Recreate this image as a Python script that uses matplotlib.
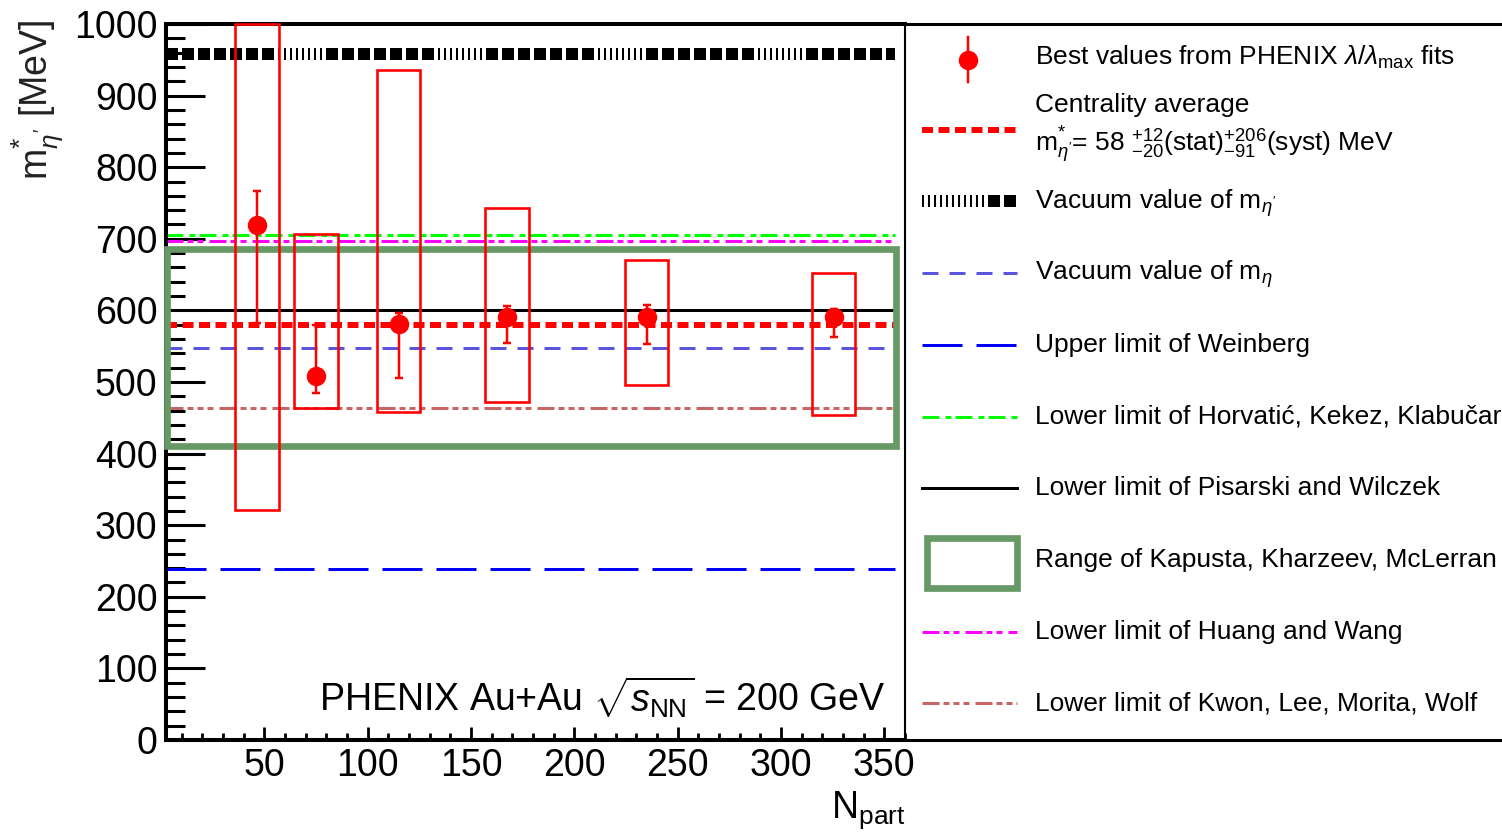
import matplotlib
matplotlib.use("Agg")
import matplotlib.pyplot as plt
from matplotlib.patches import Rectangle
from matplotlib.ticker import MultipleLocator

plt.rcParams['font.family'] = ['Liberation Sans', 'DejaVu Sans']
plt.rcParams['mathtext.fontset'] = 'custom'
plt.rcParams['mathtext.rm'] = 'Liberation Sans'
plt.rcParams['mathtext.it'] = 'Liberation Sans:italic'
plt.rcParams['mathtext.bf'] = 'Liberation Sans:bold'
plt.rcParams['lines.scale_dashes'] = False

# --- PHENIX best values vs centrality ---
npart = [46.5, 75, 115, 167.5, 235, 325.5]
mass = [719, 509, 581, 591, 591, 591]
stat_up = [48, 71, 15, 15, 16, 11]
stat_dn = [137, 24, 76, 37, 38, 28]
syst_lo = [321, 464, 458, 472, 496, 454]
syst_hi = [1000, 707, 936, 743, 670, 652]
syst_halfwidth = 10.5

# --- reference levels [MeV] ---
avg_mass = 580
vac_etaprime = 958
vac_eta = 548
weinberg = 239
horvatic = 706
pisarski = 600
kapusta = [410, 686]
huang_wang = 697
kwon = 463

x_range = [2.4, 360]
line_x = [2.4, 355]
box_x = [3, 355.6]

# colours / dash patterns (points)
RED = '#ff0000'
GREEN_BOX = '#669966'
px = 0.72
style_etap = dict(color='black', lw=12 * px,
                  dashes=[12 * px, 4 * px] * 7 + [2 * px, 4 * px] * 8)
style_etap_leg = dict(color='black', lw=12 * px,
                      dashes=[2 * px, 4 * px] * 11 + [12 * px, 4 * px] * 3)
style_avg = dict(color=RED, lw=6 * px, dashes=[11 * px, 5.5 * px])
style_eta = dict(color='#5a55dc', lw=3 * px, dashes=[16 * px, 11 * px])
style_wein = dict(color='#0000ff', lw=3 * px, dashes=[40 * px, 14 * px])
style_horv = dict(color='#00ff00', lw=3 * px, dashes=[17 * px, 6 * px, 6 * px, 4 * px])
style_pis = dict(color='black', lw=3 * px)
style_huang = dict(color='#ff00ff', lw=3 * px,
                   dashes=[17 * px, 4 * px, 6 * px, 4 * px, 6 * px, 6 * px])
style_kwon = dict(color='#c86464', lw=3 * px,
                  dashes=[17 * px, 4 * px, 6 * px, 4 * px, 6 * px, 4 * px, 6 * px, 6 * px])

W, H = 1502, 835
L, R, B, T = 166, 905, 740, 24
fig = plt.figure(figsize=(W / 100, H / 100), dpi=100)
ax = fig.add_axes([L / W, 1 - B / H, (R - L) / W, (B - T) / H])
ax.set_xlim(*x_range)
ax.set_ylim(0, 1000)

# 1) theory / reference lines
ax.add_patch(Rectangle((box_x[0], kapusta[0]), box_x[1] - box_x[0], kapusta[1] - kapusta[0],
                       fill=False, ec=GREEN_BOX, lw=6.7 * px, zorder=3, clip_on=False))
for level, st in [(vac_etaprime, style_etap), (horvatic, style_horv), (huang_wang, style_huang),
                  (pisarski, style_pis), (avg_mass, style_avg), (vac_eta, style_eta),
                  (kwon, style_kwon), (weinberg, style_wein)]:
    ax.plot(line_x, [level, level], zorder=2, **st)

# 2) systematic boxes
for x, lo, hi in zip(npart, syst_lo, syst_hi):
    ax.add_patch(Rectangle((x - syst_halfwidth, lo), 2 * syst_halfwidth, hi - lo,
                           fill=False, ec=RED, lw=2.6 * px, zorder=4, clip_on=False))

# 3) data points with stat errors
ax.errorbar(npart, mass, yerr=[stat_dn, stat_up], fmt='o', color=RED, ms=13,
            elinewidth=2.5 * px, capsize=3, capthick=2.5 * px, zorder=5)

# axes cosmetics
for side, lw in [('left', 2.9), ('bottom', 2.9), ('top', 2.9), ('right', 1.5)]:
    ax.spines[side].set_linewidth(lw)
ax.xaxis.set_major_locator(MultipleLocator(50))
ax.xaxis.set_minor_locator(MultipleLocator(10))
ax.yaxis.set_major_locator(MultipleLocator(100))
ax.yaxis.set_minor_locator(MultipleLocator(20))
ax.tick_params(axis='both', which='both', direction='in', top=False, right=False,
               labelsize=27)
ax.tick_params(axis='y', which='major', length=28, width=2.2, pad=6)
ax.tick_params(axis='y', which='minor', length=14, width=2.2)
ax.tick_params(axis='x', which='major', length=9.5, width=2, pad=6)
ax.tick_params(axis='x', which='minor', length=5, width=2)

ax.text(0.973, 0.039, r"PHENIX Au+Au $\sqrt{s_{\mathrm{NN}}}$ = 200 GeV", transform=ax.transAxes,
        ha='right', va='baseline', fontsize=27)

fig.text(37 / W, 1 - 20 / H, r"m$^{*}_{\eta'}$ [MeV]", rotation=90, ha='center', va='top',
         fontsize=27, color='#222222')
fig.text(905 / W, 1 - 810 / H, r"N$_{\mathrm{part}}$", ha='right', va='center', fontsize=27)

# legend panel
lax = fig.add_axes([R / W, 1 - B / H, 1 - R / W, (B - T) / H])
lax.set_xlim(R, W)
lax.set_ylim(B, T)
lax.set_xticks([])
lax.set_yticks([])
lax.patch.set_alpha(0)
for side in ('left', 'right'):
    lax.spines[side].set_visible(False)
for side in ('top', 'bottom'):
    lax.spines[side].set_linewidth(2.2)

labels = [
    r"Best values from PHENIX $\lambda/\lambda_{\mathrm{max}}$ fits",
    None,
    r"Vacuum value of m$_{\eta'}$",
    r"Vacuum value of m$_{\eta}$",
    "Upper limit of Weinberg",
    "Lower limit of Horvatić, Kekez, Klabučar",
    "Lower limit of Pisarski and Wilczek",
    "Range of Kapusta, Kharzeev, McLerran",
    "Lower limit of Huang and Wang",
    "Lower limit of Kwon, Lee, Morita, Wolf",
]
handles = ['point', style_avg, style_etap_leg, style_eta, style_wein, style_horv,
           style_pis, 'box', style_huang, style_kwon]
row0, pitch = 58, 71.7
hx0, hx1, tx = 922, 1017, 1035
leg_fs = 19
for i, (lab, hd) in enumerate(zip(labels, handles)):
    y = row0 + pitch * i
    if hd == 'point':
        lax.plot([968, 968], [y - 21, y + 24], color=RED, lw=2.5 * px)
        lax.plot([968], [y + 2], 'o', color=RED, ms=13)
    elif hd == 'box':
        lax.add_patch(Rectangle((hx0 + 5, y - 22), hx1 - hx0 - 5, 50, fill=False,
                                ec=GREEN_BOX, lw=6.7 * px))
    else:
        lax.plot([hx0, hx1], [y, y], **hd)
    if lab is not None:
        lax.text(tx, y + 7, lab, ha='left', va='baseline', fontsize=leg_fs)
y = row0 + pitch
lax.text(tx, y - 18, "Centrality average", ha='left', va='baseline', fontsize=leg_fs)
lax.text(tx, y + 22, r"m$^{*}_{\eta'}$= 58 ${}^{+12}_{-20}$(stat)${}^{+206}_{-91}$(syst) MeV",
         ha='left', va='baseline', fontsize=leg_fs)

fig.savefig("out.png", dpi=100)
